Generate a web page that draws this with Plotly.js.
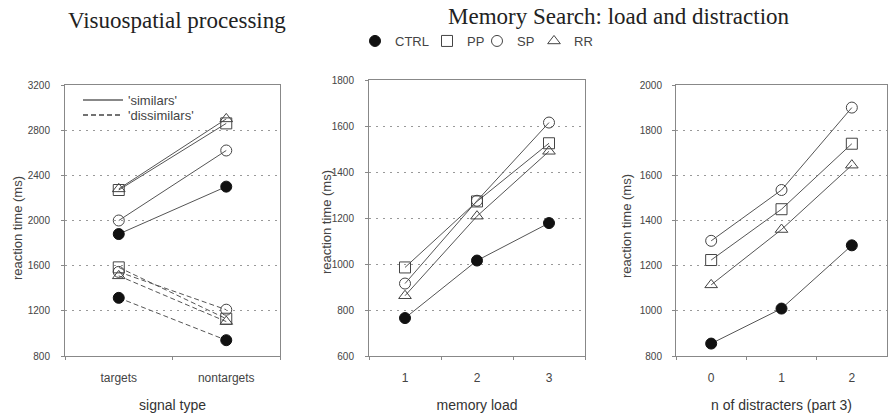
<!DOCTYPE html>
<html>
<head>
<meta charset="utf-8">
<script src="https://cdn.plot.ly/plotly-3.0.1.min.js"></script>
<style>html,body{margin:0;padding:0;background:#fff;}#chart{width:888px;height:417px;}</style>
</head>
<body>
<div id="chart"></div>
<script>
// ---- Data ----
const groups = ['CTRL', 'PP', 'SP', 'RR'];
const signalTypes = ['targets', 'nontargets'];
const similarsCTRL = [1880, 2300];
const similarsPP = [2270, 2860];
const similarsSP = [2000, 2620];
const similarsRR = [2280, 2900];
const dissimilarsCTRL = [1315, 940];
const dissimilarsPP = [1585, 1130];
const dissimilarsSP = [1545, 1210];
const dissimilarsRR = [1510, 1105];

const memoryLoad = ['1', '2', '3'];
const loadCTRL = [765, 1015, 1178];
const loadPP = [985, 1272, 1525];
const loadSP = [915, 1275, 1615];
const loadRR = [862, 1208, 1490];

const distracters = ['0', '1', '2'];
const distCTRL = [855, 1010, 1290];
const distPP = [1225, 1450, 1740];
const distSP = [1310, 1535, 1900];
const distRR = [1115, 1360, 1645];

// ---- Styles ----
const SANS = 'Liberation Sans, Arial, sans-serif';
const SERIF = 'Liberation Serif, Times New Roman, serif';
const lineCol = '#555555';
const symbols = {CTRL: 'circle', PP: 'square-open', SP: 'circle-open', RR: 'triangle-up-open'};
function mk(g) {
  return {symbol: symbols[g], size: 11, color: g === 'CTRL' ? '#111' : '#444',
          line: {color: g === 'CTRL' ? '#111' : '#444', width: 1}};
}
function tr(x, y, g, xa, ya, dash) {
  return {x: x, y: y, type: 'scatter', mode: 'lines+markers', xaxis: xa, yaxis: ya,
          line: {color: lineCol, width: 1, dash: dash || 'solid'}, marker: mk(g),
          showlegend: false, name: g, cliponaxis: false};
}

const sim = {CTRL: similarsCTRL, PP: similarsPP, SP: similarsSP, RR: similarsRR};
const dis = {CTRL: dissimilarsCTRL, PP: dissimilarsPP, SP: dissimilarsSP, RR: dissimilarsRR};
const ld = {CTRL: loadCTRL, PP: loadPP, SP: loadSP, RR: loadRR};
const ds = {CTRL: distCTRL, PP: distPP, SP: distSP, RR: distRR};

const data = [];
groups.forEach(g => data.push(tr(signalTypes, dis[g], g, 'x', 'y', '5px,3px')));
groups.forEach(g => data.push(tr(signalTypes, sim[g], g, 'x', 'y')));
groups.forEach(g => data.push(tr(memoryLoad, ld[g], g, 'x2', 'y2')));
groups.forEach(g => data.push(tr(distracters, ds[g], g, 'x3', 'y3')));

// group legend entries (markers only), one legend per entry for tight spacing
const groupLegends = ['legend', 'legend2', 'legend3', 'legend4'];
groups.forEach((g, i) => data.push({x: [null], y: [null], type: 'scatter', mode: 'markers',
  marker: mk(g), name: g, showlegend: true, legend: groupLegends[i], xaxis: 'x2', yaxis: 'y2'}));
// panel 1 line-style legend
data.push({x: [null], y: [null], type: 'scatter', mode: 'lines', name: "'similars'",
  line: {color: '#888', width: 2}, showlegend: true, legend: 'legend5'});
data.push({x: [null], y: [null], type: 'scatter', mode: 'lines', name: "'dissimilars'",
  line: {color: '#444', width: 1.5, dash: '5px,3px'}, showlegend: true, legend: 'legend6'});

function xax(dom, title) {
  return {domain: dom, type: 'category', showline: true, mirror: true, linecolor: '#888', linewidth: 1,
    ticks: 'outside', ticklen: 3, tickcolor: '#888', tickson: 'boundaries', showgrid: false, zeroline: false,
    tickfont: {family: SANS, size: 12, color: '#444'}, ticklabelstandoff: 11,
    title: {text: title, font: {family: SANS, size: 14, color: '#333'}, standoff: 15},
    fixedrange: true};
}
function yax(dom, range, dtick, anchor, labelGap) {
  return {domain: dom, range: range, dtick: dtick, anchor: anchor, showline: true, mirror: true, linecolor: '#888',
    linewidth: 1, ticks: 'outside', ticklen: 3, tickcolor: '#888', showgrid: true, gridcolor: '#999',
    griddash: '2px,5px', gridwidth: 1, zeroline: false,
    tickfont: {family: SANS, size: 10, color: '#444'}, ticklabelstandoff: labelGap,
    fixedrange: true};
}
function legendAt(x, y, size, iw) {
  return {orientation: 'h', x: x/888, y: 1 - y/417, xanchor: 'left', yanchor: 'middle',
    font: {family: SANS, size: size, color: '#444'}, bgcolor: 'rgba(0,0,0,0)',
    itemwidth: iw, itemclick: false, borderwidth: 0};
}
function yTitle(x, y) {
  return {text: 'reaction time (ms)', xref: 'paper', yref: 'paper', x: x/888, y: 1 - y/417,
    xanchor: 'center', yanchor: 'middle', textangle: -90, showarrow: false,
    font: {family: SANS, size: 13, color: '#444'}};
}

const yDom1 = [1 - 356/417, 1 - 85/417];
const yDom2 = [1 - 356/417, 1 - 80/417];
const layout = {
  width: 888, height: 417, margin: {l: 0, r: 0, t: 0, b: 0},
  paper_bgcolor: '#fff', plot_bgcolor: '#fff', showlegend: true,
  xaxis: Object.assign(xax([65/888, 280/888], 'signal type'), {anchor: 'y', range: [-0.5, 1.5]}),
  yaxis: yax(yDom1, [800, 3200], 400, 'x', 9),
  xaxis2: Object.assign(xax([369/888, 585/888], 'memory load'), {anchor: 'y2', range: [-0.5, 2.5]}),
  yaxis2: yax(yDom2, [600, 1800], 200, 'x2', 9),
  xaxis3: Object.assign(xax([676/888, 887/888], 'n of distracters (part 3)'), {anchor: 'y3', range: [-0.5, 2.5]}),
  yaxis3: yax(yDom1, [800, 2000], 200, 'x3', 8),
  legend: legendAt(355, 41, 13, 30),
  legend2: legendAt(427, 41, 13, 30),
  legend3: legendAt(477, 41, 13, 30),
  legend4: legendAt(534, 41, 13, 30),
  legend5: legendAt(78, 100, 13, 40),
  legend6: legendAt(78, 115, 13, 40),
  annotations: [
    {text: 'Visuospatial processing', xref: 'paper', yref: 'paper', x: 177/888, y: 1 - 20/417,
     xanchor: 'center', yanchor: 'middle', showarrow: false,
     font: {family: SERIF, size: 23, color: '#222'}},
    {text: 'Memory Search: load and distraction', xref: 'paper', yref: 'paper', x: 619/888, y: 1 - 17/417,
     xanchor: 'center', yanchor: 'middle', showarrow: false,
     font: {family: SERIF, size: 23, color: '#222'}},
    yTitle(17, 228), yTitle(326, 222), yTitle(627, 226)
  ]
};

Plotly.newPlot('chart', data, layout, {displayModeBar: false, staticPlot: true});
</script>
</body>
</html>
